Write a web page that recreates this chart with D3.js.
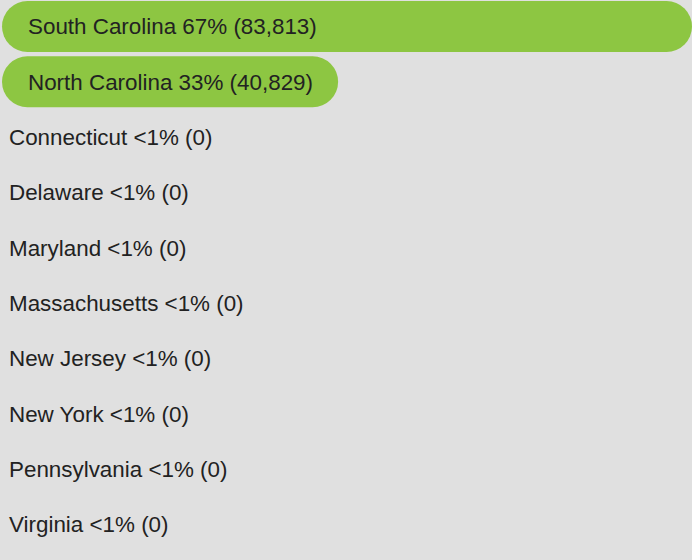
<!DOCTYPE html>
<html><head><meta charset="utf-8">
<script src="https://cdn.jsdelivr.net/npm/d3@7"></script>
<style>html,body{margin:0;padding:0;background:#e0e0e0;}svg{display:block;}</style>
</head><body>
<script>
const states = ["South Carolina","North Carolina","Connecticut","Delaware","Maryland","Massachusetts","New Jersey","New York","Pennsylvania","Virginia"];
const counts = [83813,40829,0,0,0,0,0,0,0,0];

const W = 692, H = 560;
const svg = d3.select("body").append("svg").attr("width", W).attr("height", H);
svg.append("rect").attr("width", W).attr("height", H).attr("fill", "#e0e0e0");

const total = d3.sum(counts);
const x = d3.scaleLinear().domain([0, d3.max(counts)]).range([0, 690]);
const pad = 0.078;
const step = 55.3;
const y = d3.scaleBand().domain(states).range([1, 1 + step * (states.length - pad)]).paddingInner(pad).paddingOuter(0);
const fmt = d3.format(",");

const data = states.map((s, i) => ({state: s, value: counts[i]}));
const g = svg.selectAll("g.row").data(data).join("g").attr("class", "row");

g.filter(d => d.value > 0).append("rect")
  .attr("x", 2)
  .attr("y", d => y(d.state))
  .attr("width", d => x(d.value))
  .attr("height", y.bandwidth())
  .attr("rx", y.bandwidth() / 2)
  .attr("fill", "#8dc642");

g.append("text")
  .attr("x", d => d.value > 0 ? 28 : 9)
  .attr("y", d => y(d.state) + 33.4)
  .attr("font-family", "Liberation Sans, Arial, sans-serif")
  .attr("font-size", 22.4)
  .attr("fill", "#222")
  .text(d => {
    const p = d.value / total * 100;
    const ps = p < 1 ? "<1%" : Math.round(p) + "%";
    return `${d.state} ${ps} (${fmt(d.value)})`;
  });
</script>
</body></html>
